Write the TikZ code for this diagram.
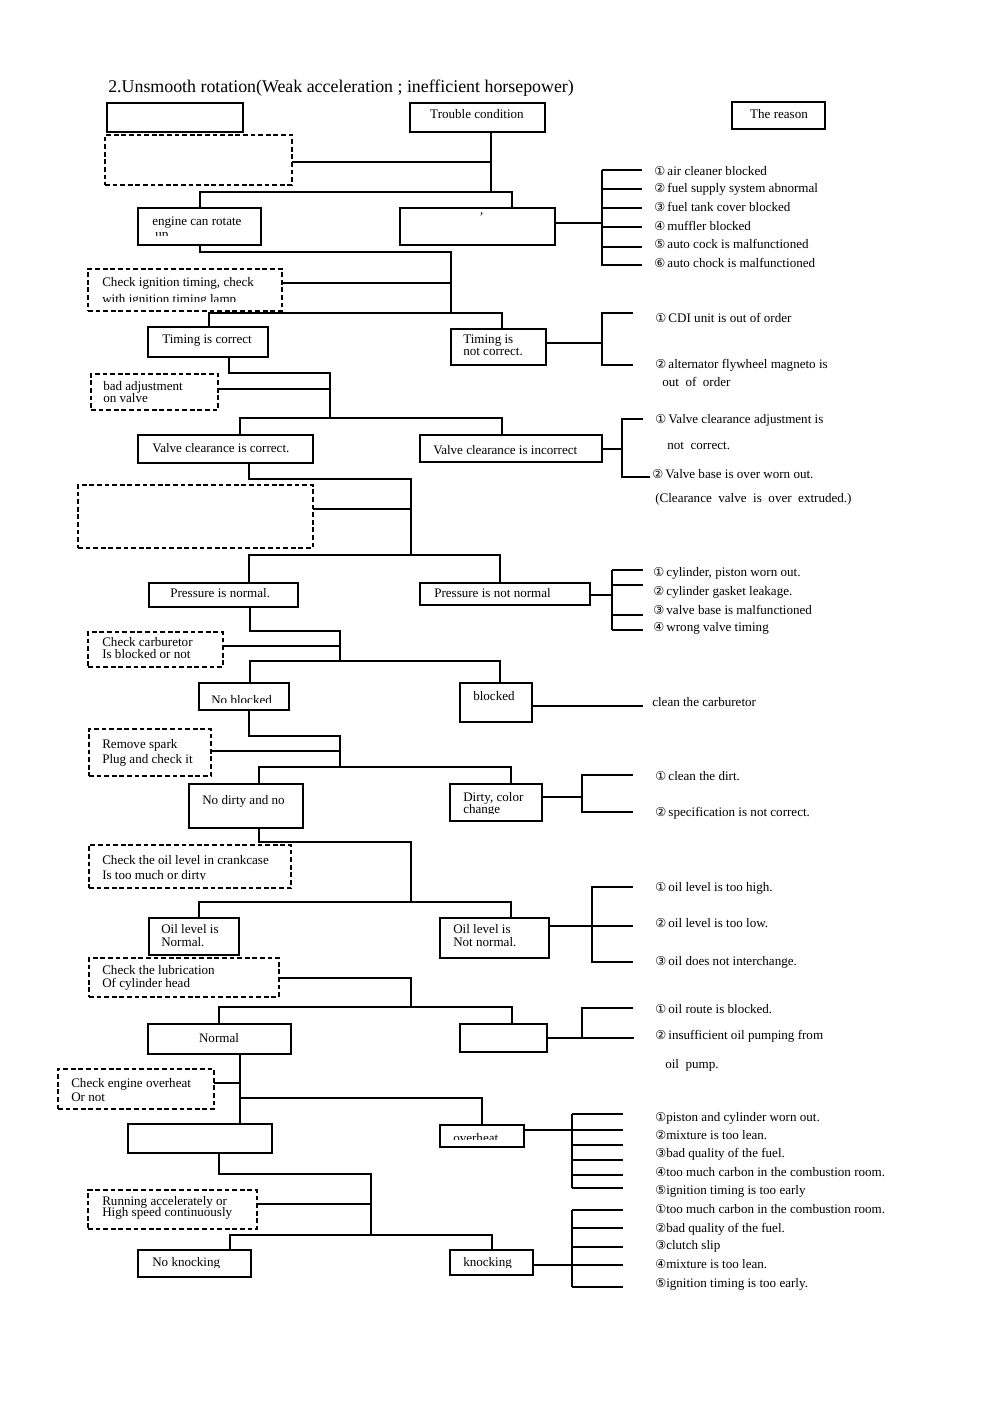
\documentclass[tikz,border=0pt]{standalone}
\usepackage{fontspec}
\setmainfont{Liberation Serif}
\newfontfamily\symf{DejaVu Sans}
\usetikzlibrary{fit}
\newcommand\cn[1]{{\symf\fontsize{9.2}{9}\selectfont #1}}
\newcommand\tx[4]{\node[txt] (#1) at (#2,#3) {#4};}
\newcommand\ctx[5]{\begin{scope}\clip (0,0) rectangle (1000,#5);\node[txt] (#1) at (#2,#3) {#4};\end{scope}}
\newcommand\bx[6]{\node[#6, fit={(#2,#3)(#4,#5)}] (#1) {};}
\tikzset{
  box/.style={draw, line width=1.6pt, inner sep=0pt, outer sep=0pt},
  dbox/.style={draw, line width=1.4pt, dash pattern=on 3.6pt off 2.1pt, inner sep=0pt, outer sep=0pt},
  ln/.style={line width=1.4pt},
  txt/.style={anchor=west, inner sep=0pt, font=\fontsize{9.8}{11}\selectfont, text height=0.7em, text depth=0.2em},
  txtc/.style={txt, anchor=center}
}
\begin{document}
\begin{tikzpicture}[x=0.75pt, y=-0.75pt, line join=miter]
\useasboundingbox (0,0) rectangle (1000,1412);
\fill[white] (0,0) rectangle (1000,1412);

\node[anchor=west, inner sep=0pt, font=\fontsize{13.4}{15}\selectfont] (title) at (108,88) {2.Unsmooth rotation(Weak acceleration ; inefficient horsepower)};

% ---------- boxes ----------
\bx{b0}{107}{103}{243}{132}{box}
\bx{tc}{410}{103}{545}{132}{box}
\bx{rs}{732}{102}{825}{129}{box}
\bx{d1}{105}{135}{292}{185}{dbox}
\bx{e1}{138}{208}{261}{245}{box}
\bx{r1}{400}{208}{555}{245}{box}
\bx{d2}{88}{269}{282}{311}{dbox}
\bx{tcor}{148}{327}{268}{357}{box}
\bx{tnc}{451}{329}{546}{365}{box}
\bx{d3}{91}{374}{218}{410}{dbox}
\bx{vcor}{138}{435}{313}{463}{box}
\bx{vinc}{420}{435}{602}{462}{box}
\bx{d4}{78}{485}{313}{548}{dbox}
\bx{pn}{149}{583}{298}{607}{box}
\bx{pnn}{420}{583}{590}{605}{box}
\bx{d5}{88}{632}{223}{667}{dbox}
\bx{nb}{199}{683}{289}{710}{box}
\bx{bl}{460}{683}{532}{722}{box}
\bx{d6}{89}{729}{211}{776}{dbox}
\bx{nd}{189}{784}{303}{828}{box}
\bx{dc}{450}{784}{542}{821}{box}
\bx{d7}{89}{845}{291}{888}{dbox}
\bx{on}{149}{918}{239}{955}{box}
\bx{onn}{440}{918}{549}{958}{box}
\bx{d8}{89}{958}{279}{997}{dbox}
\bx{nm}{148}{1024}{291}{1054}{box}
\bx{lr}{460}{1024}{547}{1052}{box}
\bx{d9}{58}{1069}{214}{1109}{dbox}
\bx{bl2}{128}{1124}{272}{1153}{box}
\bx{oh}{440}{1125}{524}{1147}{box}
\bx{d10}{88}{1190}{257}{1229}{dbox}
\bx{nk}{138}{1250}{251}{1277}{box}
\bx{kn}{450}{1250}{533}{1275}{box}

% ---------- texts in boxes ----------
\node[txtc] (ttc) at (477,115) {Trouble condition};
\node[txtc] (trs) at (779,115) {The reason};
\tx{te1}{152}{222}{engine can rotate}
\ctx{te2}{155}{235}{up}{236}
\tx{tr1}{479}{218}{’}
\tx{td2a}{102}{283}{Check ignition timing, check}
\ctx{td2b}{102}{300}{with ignition timing lamp}{302}
\tx{ttcor}{162}{340}{Timing is correct}
\tx{ttnca}{463}{340}{Timing is}
\tx{ttncb}{463}{352}{not correct.}
\tx{td3a}{103}{387}{bad adjustment}
\tx{td3b}{103}{399}{on valve}
\tx{tvcor}{152}{449}{Valve clearance is correct.}
\ctx{tvinc}{433}{451}{Valve clearance is incorrect}{453}
\tx{tpn}{170}{594}{Pressure is normal.}
\tx{tpnn}{434}{594}{Pressure is not normal}
\tx{td5a}{102}{643}{Check carburetor}
\tx{td5b}{102}{655}{Is blocked or not}
\ctx{tnb}{211}{701}{No blocked}{702}
\tx{tbl}{473}{697}{blocked}
\tx{td6a}{102}{745}{Remove spark}
\tx{td6b}{102}{760}{Plug and check it}
\tx{tnd}{202}{801}{No dirty and no}
\tx{tdca}{463}{798}{Dirty, color}
\ctx{tdcb}{463}{810}{change}{813}
\tx{td7a}{102}{861}{Check the oil level in crankcase}
\ctx{td7b}{102}{876}{Is too much or dirty}{879}
\tx{tona}{161}{930}{Oil level is}
\tx{tonb}{161}{943}{Normal.}
\tx{tonna}{453}{930}{Oil level is}
\tx{tonnb}{453}{943}{Not normal.}
\tx{td8a}{102}{971}{Check the lubrication}
\tx{td8b}{102}{984}{Of cylinder head}
\node[txtc] (tnm) at (219,1039) {Normal};
\tx{td9a}{71}{1084}{Check engine overheat}
\ctx{td9b}{71}{1098}{Or not}{1101}
\ctx{toh}{453}{1139}{overheat}{1139.5}
\tx{td10a}{102}{1202}{Running accelerately or}
\tx{td10b}{102}{1213}{High speed continuously}
\ctx{tnk}{152}{1263}{No knocking}{1267}
\ctx{tkn}{463}{1263}{knocking}{1267}

% ---------- tree connectors ----------
% stage 1
\coordinate (s1v) at (491,162); \coordinate (s1b) at (491,192);
\coordinate (s1l) at (200,192); \coordinate (s1r) at (512,192);
\draw[ln] (s1v |- tc.south) -- (s1b);
\draw[ln] (s1v) -- (s1v -| d1.east);
\draw[ln] (s1l |- e1.north) -- (s1l) -- (s1r) -- (s1r |- r1.north);
% stage 2
\coordinate (s2a) at (200,252); \coordinate (s2v) at (451,283); \coordinate (s2b) at (451,313);
\coordinate (s2l) at (209,313); \coordinate (s2r) at (502,313);
\draw[ln] (s2a |- e1.south) -- (s2a) -| (s2b);
\draw[ln] (s2v) -- (s2v -| d2.east);
\draw[ln] (s2l |- tcor.north) -- (s2l) -- (s2r) -- (s2r |- tnc.north);
% stage 3
\coordinate (s3a) at (229,373); \coordinate (s3v) at (330,389); \coordinate (s3b) at (330,418);
\coordinate (s3l) at (240,418); \coordinate (s3r) at (502,418);
\draw[ln] (s3a |- tcor.south) -- (s3a) -| (s3b);
\draw[ln] (s3v) -- (s3v -| d3.east);
\draw[ln] (s3l |- vcor.north) -- (s3l) -- (s3r) -- (s3r |- vinc.north);
% stage 4
\coordinate (s4a) at (249,479); \coordinate (s4v) at (411,509); \coordinate (s4b) at (411,555);
\coordinate (s4l) at (249,555); \coordinate (s4r) at (500,555);
\draw[ln] (s4a |- vcor.south) -- (s4a) -| (s4b);
\draw[ln] (s4v) -- (s4v -| d4.east);
\draw[ln] (s4l |- pn.north) -- (s4l) -- (s4r) -- (s4r |- pnn.north);
% stage 5
\coordinate (s5a) at (250,631); \coordinate (s5v) at (340,646); \coordinate (s5b) at (340,661);
\coordinate (s5l) at (250,661); \coordinate (s5r) at (500,661);
\draw[ln] (s5a |- pn.south) -- (s5a) -| (s5b);
\draw[ln] (s5v) -- (s5v -| d5.east);
\draw[ln] (s5l |- nb.north) -- (s5l) -- (s5r) -- (s5r |- bl.north);
% stage 6
\coordinate (s6a) at (249,736); \coordinate (s6v) at (340,751); \coordinate (s6b) at (340,767);
\coordinate (s6l) at (259,767); \coordinate (s6r) at (511,767);
\draw[ln] (s6a |- nb.south) -- (s6a) -| (s6b);
\draw[ln] (s6v) -- (s6v -| d6.east);
\draw[ln] (s6l |- nd.north) -- (s6l) -- (s6r) -- (s6r |- dc.north);
% stage 7
\coordinate (s7a) at (259,842); \coordinate (s7b) at (411,902);
\coordinate (s7l) at (199,902); \coordinate (s7r) at (511,902);
\draw[ln] (s7a |- nd.south) -- (s7a) -| (s7b);
\draw[ln] (s7l |- on.north) -- (s7l) -- (s7r) -- (s7r |- onn.north);
% stage 8
\coordinate (s8v) at (411,978); \coordinate (s8b) at (411,1007);
\coordinate (s8l) at (219,1007); \coordinate (s8r) at (512,1007);
\draw[ln] (s8v -| d8.east) -- (s8v) -- (s8b);
\draw[ln] (s8l |- nm.north) -- (s8l) -- (s8r) -- (s8r |- lr.north);
% stage 9
\coordinate (s9v) at (240,1083); \coordinate (s9b) at (240,1098); \coordinate (s9r) at (482,1098);
\draw[ln] (s9v |- nm.south) -- (s9v |- bl2.north);
\draw[ln] (s9v) -- (s9v -| d9.east);
\draw[ln] (s9b) -- (s9r) -- (s9r |- oh.north);
% stage 10
\coordinate (s10a) at (219,1174); \coordinate (s10v) at (371,1204); \coordinate (s10b) at (371,1235);
\coordinate (s10l) at (230,1235); \coordinate (s10r) at (492,1235);
\draw[ln] (s10a |- bl2.south) -- (s10a) -| (s10b);
\draw[ln] (s10v) -- (s10v -| d10.east);
\draw[ln] (s10l |- nk.north) -- (s10l) -- (s10r) -- (s10r |- kn.north);

% ---------- reason brackets ----------
\coordinate (f1) at (602,223);
\draw[ln] (f1 -| r1.east) -- (f1);
\draw[ln] (602,170) -- (602,266);
\foreach \y in {170,189,208,227,247,265} \draw[ln] (602,\y) -- (642,\y);

\coordinate (f2) at (602,343);
\draw[ln] (f2 -| tnc.east) -- (f2);
\draw[ln] (633,313) -- (602,313) -- (602,365) -- (633,365);

\coordinate (f3) at (622,449);
\draw[ln] (f3 -| vinc.east) -- (f3);
\draw[ln] (643,419) -- (622,419) -- (622,477) -- (650,477);

\coordinate (f4) at (612,595);
\draw[ln] (f4 -| pnn.east) -- (f4);
\draw[ln] (612,570) -- (612,630);
\foreach \y in {570,585,615,630} \draw[ln] (612,\y) -- (643,\y);

\coordinate (f5) at (643,706);
\draw[ln] (f5 -| bl.east) -- (f5);

\coordinate (f6) at (582,797);
\draw[ln] (f6 -| dc.east) -- (f6);
\draw[ln] (633,775) -- (582,775) -- (582,812) -- (633,812);

\coordinate (f7) at (633,926);
\draw[ln] (f7 -| onn.east) -- (f7);
\draw[ln] (633,887) -- (592,887) -- (592,962) -- (633,962);

\coordinate (f8) at (634,1038);
\draw[ln] (f8 -| lr.east) -- (f8);
\draw[ln] (633,1008) -- (582,1008) -- (582,1038);

\coordinate (f9) at (572,1130);
\draw[ln] (f9 -| oh.east) -- (f9);
\draw[ln] (572,1114) -- (572,1188);
\foreach \y in {1114,1130,1145,1160,1175,1188} \draw[ln] (572,\y) -- (623,\y);

\coordinate (f10) at (572,1265);
\draw[ln] (f10 -| kn.east) -- (f10);
\draw[ln] (572,1210) -- (572,1287);
\foreach \y in {1210,1228,1247,1265,1287} \draw[ln] (572,\y) -- (623,\y);

% ---------- reason texts ----------
\tx{r11}{654}{172}{\cn{①}\,air cleaner blocked}
\tx{r12}{654}{189}{\cn{②}\,fuel supply system abnormal}
\tx{r13}{654}{208}{\cn{③}\,fuel tank cover blocked}
\tx{r14}{654}{227}{\cn{④}\,muffler blocked}
\tx{r15}{654}{245}{\cn{⑤}\,auto cock is malfunctioned}
\tx{r16}{654}{264}{\cn{⑥}\,auto chock is malfunctioned}
\tx{r21}{655}{319}{\cn{①}\,CDI unit is out of order}
\tx{r22}{655}{365}{\cn{②}\,alternator flywheel magneto is}
\tx{r23}{662}{383}{out\ \ of\ \ order}
\tx{r31}{655}{420}{\cn{①}\,Valve clearance adjustment is}
\tx{r32}{667}{446}{not\ \ correct.}
\tx{r33}{652}{475}{\cn{②}\,Valve base is over worn out.}
\tx{r34}{655}{499}{(Clearance\ \ valve\ \ is\ \ over\ \ extruded.)}
\tx{r41}{653}{573}{\cn{①}\,cylinder, piston worn out.}
\tx{r42}{653}{592}{\cn{②}\,cylinder gasket leakage.}
\tx{r43}{653}{611}{\cn{③}\,valve base is malfunctioned}
\tx{r44}{653}{628}{\cn{④}\,wrong valve timing}
\tx{r5}{652}{703}{clean\ the\ carburetor}
\tx{r61}{655}{777}{\cn{①}\,clean the dirt.}
\tx{r62}{655}{813}{\cn{②}\,specification is not correct.}
\tx{r71}{655}{888}{\cn{①}\,oil level is too high.}
\tx{r72}{655}{924}{\cn{②}\,oil level is too low.}
\tx{r73}{655}{962}{\cn{③}\,oil does not interchange.}
\tx{r81}{655}{1010}{\cn{①}\,oil route is blocked.}
\tx{r82}{655}{1036}{\cn{②}\,insufficient oil pumping from}
\tx{r83}{665}{1065}{oil\ \ pump.}
\tx{r91}{655}{1118}{\cn{①}piston and cylinder worn out.}
\tx{r92}{655}{1136}{\cn{②}mixture is too lean.}
\tx{r93}{655}{1154}{\cn{③}bad quality of the fuel.}
\tx{r94}{655}{1173}{\cn{④}too much carbon in the combustion room.}
\tx{r95}{655}{1191}{\cn{⑤}ignition timing is too early}
\tx{r101}{655}{1210}{\cn{①}too much carbon in the combustion room.}
\tx{r102}{655}{1229}{\cn{②}bad quality of the fuel.}
\tx{r103}{655}{1246}{\cn{③}clutch slip}
\tx{r104}{655}{1265}{\cn{④}mixture is too lean.}
\tx{r105}{655}{1284}{\cn{⑤}ignition timing is too early.}
\end{tikzpicture}
\end{document}
